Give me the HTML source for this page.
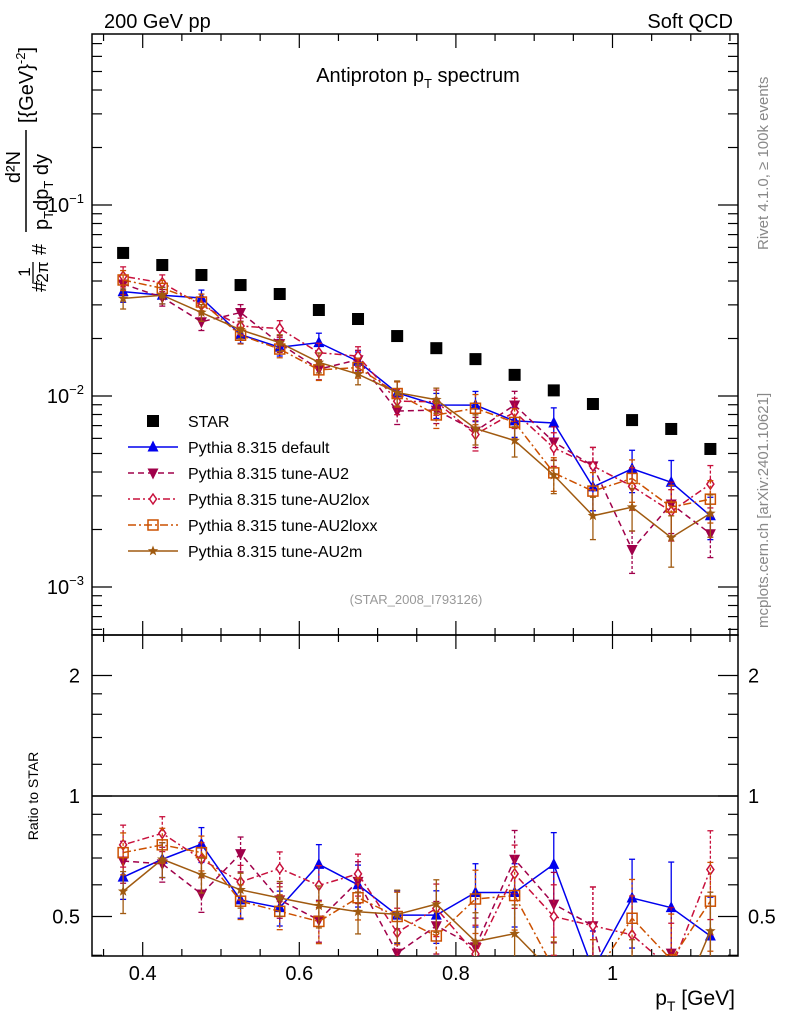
<!DOCTYPE html>
<html><head><meta charset="utf-8"><style>
html,body{margin:0;padding:0;background:#fff;width:786px;height:1024px;overflow:hidden}
svg{display:block;font-family:"Liberation Sans",sans-serif}
</style></head><body>
<svg id="c" width="786" height="1024" viewBox="0 0 786 1024">
<rect x="0" y="0" width="786" height="1024" fill="#fff"/>
<text x="104" y="28" font-size="20">200 GeV pp</text>
<text x="733" y="28" font-size="20" text-anchor="end">Soft QCD</text>
<text x="418" y="82" font-size="20" text-anchor="middle">Antiproton p<tspan font-size="13" dy="6">T</tspan><tspan dy="-6"> spectrum</tspan></text>
<text x="416" y="604" font-size="13" fill="#999" text-anchor="middle">(STAR_2008_I793126)</text>
<text transform="translate(768,250) rotate(-90)" font-size="15" fill="#888">Rivet 4.1.0, ≥ 100k events</text>
<text transform="translate(768,628) rotate(-90)" font-size="15" fill="#888">mcplots.cern.ch [arXiv:2401.10621]</text>
<g>
<text transform="translate(46,292) rotate(-90)" font-size="20">#</text>
<text transform="translate(30,272) rotate(-90)" font-size="17" text-anchor="middle">1</text>
<text transform="translate(48,272) rotate(-90)" font-size="17" text-anchor="middle">2π</text>
<line x1="33" y1="282" x2="33" y2="262" stroke="#000" stroke-width="1.3"/>
<text transform="translate(46,255) rotate(-90)" font-size="20">#</text>
<text transform="translate(20,167) rotate(-90)" font-size="20" text-anchor="middle">d²N</text>
<line x1="26" y1="232" x2="26" y2="130" stroke="#000" stroke-width="1.5"/>
<text transform="translate(48,230) rotate(-90)" font-size="20">p<tspan font-size="13" dy="5">T</tspan><tspan dy="-5">dp</tspan><tspan font-size="13" dy="5">T</tspan><tspan dy="-5"> dy</tspan></text>
<text transform="translate(33,123) rotate(-90)" font-size="20">[{GeV}<tspan font-size="13" dy="-8">-2</tspan><tspan dy="8">]</tspan></text>
</g>
<text transform="translate(38,796) rotate(-90)" font-size="14" text-anchor="middle">Ratio to STAR</text>
<text x="735" y="1005" font-size="21" text-anchor="end">p<tspan font-size="14" dy="6">T</tspan><tspan dy="-6"> [GeV]</tspan></text>
<g id="g"></g>
</svg>
<script>
const xBins=[0.375,0.425,0.475,0.525,0.575,0.625,0.675,0.725,0.775,0.825,0.875,0.925,0.975,1.025,1.075,1.125];
const star=[0.0561,0.0485,0.0430,0.0381,0.0342,0.0282,0.0253,0.0206,0.0178,0.0156,0.0129,0.0107,0.00908,0.00748,0.00672,0.00528];
const rDefault=[0.627,0.695,0.758,0.550,0.526,0.675,0.600,0.504,0.504,0.574,0.574,0.675,0.368,0.556,0.526,0.447];
const rAU2=[0.688,0.677,0.569,0.718,0.550,0.490,0.612,0.405,0.474,0.42,0.695,0.537,0.474,0.21,0.405,0.36];
const rAU2lox=[0.755,0.807,0.695,0.610,0.659,0.598,0.639,0.456,0.524,0.403,0.639,0.50,0.474,0.45,0.37,0.655];
const rAU2loxx=[0.722,0.755,0.722,0.546,0.515,0.486,0.557,0.500,0.447,0.553,0.564,0.37,0.35,0.495,0.39,0.546];
const rAU2m=[0.578,0.695,0.636,0.583,0.556,0.532,0.514,0.506,0.537,0.433,0.453,0.36,0.26,0.35,0.27,0.46];
const errFrac=[0.12,0.1,0.1,0.1,0.1,0.12,0.12,0.15,0.15,0.18,0.18,0.2,0.25,0.25,0.3,0.25];
const NS='http://www.w3.org/2000/svg';
const g=document.getElementById('g');
const L=92,R=738,T=34,MB=635,RB=956;
const X=v=>142.7+(v-0.4)*783;
const Y=v=>205-191*Math.log10(v/0.1);
const RY=v=>796-120.5*Math.log2(v);
function el(tag,a,parent){const e=document.createElementNS(NS,tag);for(const k in a)e.setAttribute(k,a[k]);(parent||g).appendChild(e);return e;}
let f1=el('rect',{x:L,y:T,width:R-L,height:MB-T,fill:'none',stroke:'#000','stroke-width':1.5});


let f2=el('rect',{x:L,y:MB,width:R-L,height:RB-MB,fill:'none',stroke:'#000','stroke-width':1.5});


let ref=el('line',{x1:L,x2:R,y1:RY(1),y2:RY(1),stroke:'#000','stroke-width':1.5});


for(let i=0;i<17;i++){const v=0.35+i*0.05;const x=X(v);if(x<L||x>R)continue;const q=Math.round(v*20);const maj=(q%4==0);const len=maj?14:7;
 [[T,1],[MB,-1],[MB,1],[RB,-1]].forEach(([y,d])=>el('line',{x1:x,x2:x,y1:y,y2:y+d*len,stroke:'#000','stroke-width':1.2}));}
[0.4,0.6,0.8,1].forEach(v=>{const t=el('text',{x:X(v),y:980,'font-size':20,'text-anchor':'middle'});t.textContent=String(v);

});
for(let d=-4;d<=0;d++)for(let m=1;m<10;m++){const v=m*Math.pow(10,d);const y=Y(v);if(y<T||y>MB)continue;const len=m==1?20:10;
 el('line',{x1:L,x2:L+len,y1:y,y2:y,stroke:'#000','stroke-width':1.2});el('line',{x1:R,x2:R-len,y1:y,y2:y,stroke:'#000','stroke-width':1.2});}
[[-1,205],[-2,396],[-3,587]].forEach(([e,y])=>{const t=el('text',{x:84,y:y+7,'font-size':20,'text-anchor':'end'});t.innerHTML='10<tspan font-size="13" dy="-9">−'+(-e)+'</tspan>';

});
[0.4,0.5,0.6,0.7,0.8,0.9,1,1.2,1.4,1.6,1.8,2].forEach(v=>{const y=RY(v);if(y<MB||y>RB)return;const maj=(v==0.5||v==1||v==2);const len=maj?20:10;
 el('line',{x1:L,x2:L+len,y1:y,y2:y,stroke:'#000','stroke-width':1.2});el('line',{x1:R,x2:R-len,y1:y,y2:y,stroke:'#000','stroke-width':1.2});});
[['2',2],['1',1],['0.5',0.5]].forEach(([s,v])=>{let t=el('text',{x:80,y:RY(v)+7,'font-size':20,'text-anchor':'end'});t.textContent=s;


t=el('text',{x:748,y:RY(v)+7,'font-size':20});t.textContent=s;

});
function marker(type,x,y,c,parent){const s=5.5;
 if(type=='sq')return el('rect',{x:x-6,y:y-6,width:12,height:12,fill:'#000'},parent);
 if(type=='tri')return el('polygon',{points:`${x},${y-s-1} ${x-s},${y+s-1} ${x+s},${y+s-1}`,fill:c},parent);
 if(type=='dtri')return el('polygon',{points:`${x},${y+s+1} ${x-s},${y-s+1} ${x+s},${y-s+1}`,fill:c},parent);
 if(type=='dia')return el('polygon',{points:`${x},${y-5} ${x-3.5},${y} ${x},${y+5} ${x+3.5},${y}`,fill:'#fff',stroke:c,'stroke-width':1.5},parent);
 if(type=='osq')return el('rect',{x:x-5,y:y-5,width:10,height:10,fill:'none',stroke:c,'stroke-width':1.5},parent);
 if(type=='star'){let p=[];for(let k=0;k<10;k++){const r=k%2?2.3:5.5;const a=-Math.PI/2+k*Math.PI/5;p.push((x+r*Math.cos(a)).toFixed(1)+','+(y+r*Math.sin(a)).toFixed(1));}return el('polygon',{points:p.join(' '),fill:c},parent);}
}
const series=[
 {name:'default',r:rDefault,c:'#0000ee',dash:'',m:'tri',label:'Pythia 8.315 default'},
 {name:'au2',r:rAU2,c:'#a0004a',dash:'6,4',m:'dtri',label:'Pythia 8.315 tune-AU2'},
 {name:'au2lox',r:rAU2lox,c:'#c8103c',dash:'2,3,7,3',m:'dia',label:'Pythia 8.315 tune-AU2lox'},
 {name:'au2loxx',r:rAU2loxx,c:'#cc5000',dash:'8,3,2,3',m:'osq',label:'Pythia 8.315 tune-AU2loxx'},
 {name:'au2m',r:rAU2m,c:'#a05a10',dash:'',m:'star',label:'Pythia 8.315 tune-AU2m'}];
const defs=el('defs',{});
let cp=el('clipPath',{id:'cm'},defs);el('rect',{x:L,y:T,width:R-L,height:MB-T},cp);
cp=el('clipPath',{id:'cr'},defs);el('rect',{x:L,y:MB,width:R-L,height:RB-MB},cp);
const gm=el('g',{'clip-path':'url(#cm)'});


const gr=el('g',{'clip-path':'url(#cr)'});


series.forEach(s=>{
 const vals=s.r.map((r,i)=>r*star[i]);
 const lm=el('polyline',{points:vals.map((v,i)=>X(xBins[i])+','+Y(v)).join(' '),fill:'none',stroke:s.c,'stroke-width':1.5,'stroke-dasharray':s.dash},gm);
 
 
 const lr=el('polyline',{points:s.r.map((v,i)=>X(xBins[i])+','+RY(v)).join(' '),fill:'none',stroke:s.c,'stroke-width':1.5,'stroke-dasharray':s.dash},gr);
 
 
 vals.forEach((v,i)=>{const x=X(xBins[i]);const e=errFrac[i];
  el('line',{x1:x,x2:x,y1:Y(v*(1+e)),y2:Y(v*(1-e)),stroke:s.c,'stroke-width':1.3,'stroke-dasharray':s.dash?'3,2':''},gm);
  el('line',{x1:x-3,x2:x+3,y1:Y(v*(1+e)),y2:Y(v*(1+e)),stroke:s.c,'stroke-width':1.3},gm);
  el('line',{x1:x-3,x2:x+3,y1:Y(v*(1-e)),y2:Y(v*(1-e)),stroke:s.c,'stroke-width':1.3},gm);
  const mk=marker(s.m,x,Y(v),s.c,gm);
  
  
  const r=s.r[i];
  el('line',{x1:x,x2:x,y1:RY(r*(1+e)),y2:RY(r*(1-e)),stroke:s.c,'stroke-width':1.3,'stroke-dasharray':s.dash?'3,2':''},gr);
  el('line',{x1:x-3,x2:x+3,y1:RY(r*(1+e)),y2:RY(r*(1+e)),stroke:s.c,'stroke-width':1.3},gr);
  el('line',{x1:x-3,x2:x+3,y1:RY(r*(1-e)),y2:RY(r*(1-e)),stroke:s.c,'stroke-width':1.3},gr);
  const mr=marker(s.m,x,RY(r),s.c,gr);
  
  
 });
});
star.forEach((v,i)=>{const m=marker('sq',X(xBins[i]),Y(v),'#000',gm);

});
const lg=el('g',{});


let ly=421;
marker('sq',153,ly,'#000',lg);
let tt=el('text',{x:188,y:ly+6,'font-size':16},lg);tt.textContent='STAR';


series.forEach((s,k)=>{const y=447+k*26;
 el('line',{x1:128,x2:178,y1:y,y2:y,stroke:s.c,'stroke-width':1.5,'stroke-dasharray':s.dash},lg);
 marker(s.m,153,y,s.c,lg);
 const t=el('text',{x:188,y:y+6,'font-size':16},lg);t.textContent=s.label;
 
 
});
</script>
</body></html>
